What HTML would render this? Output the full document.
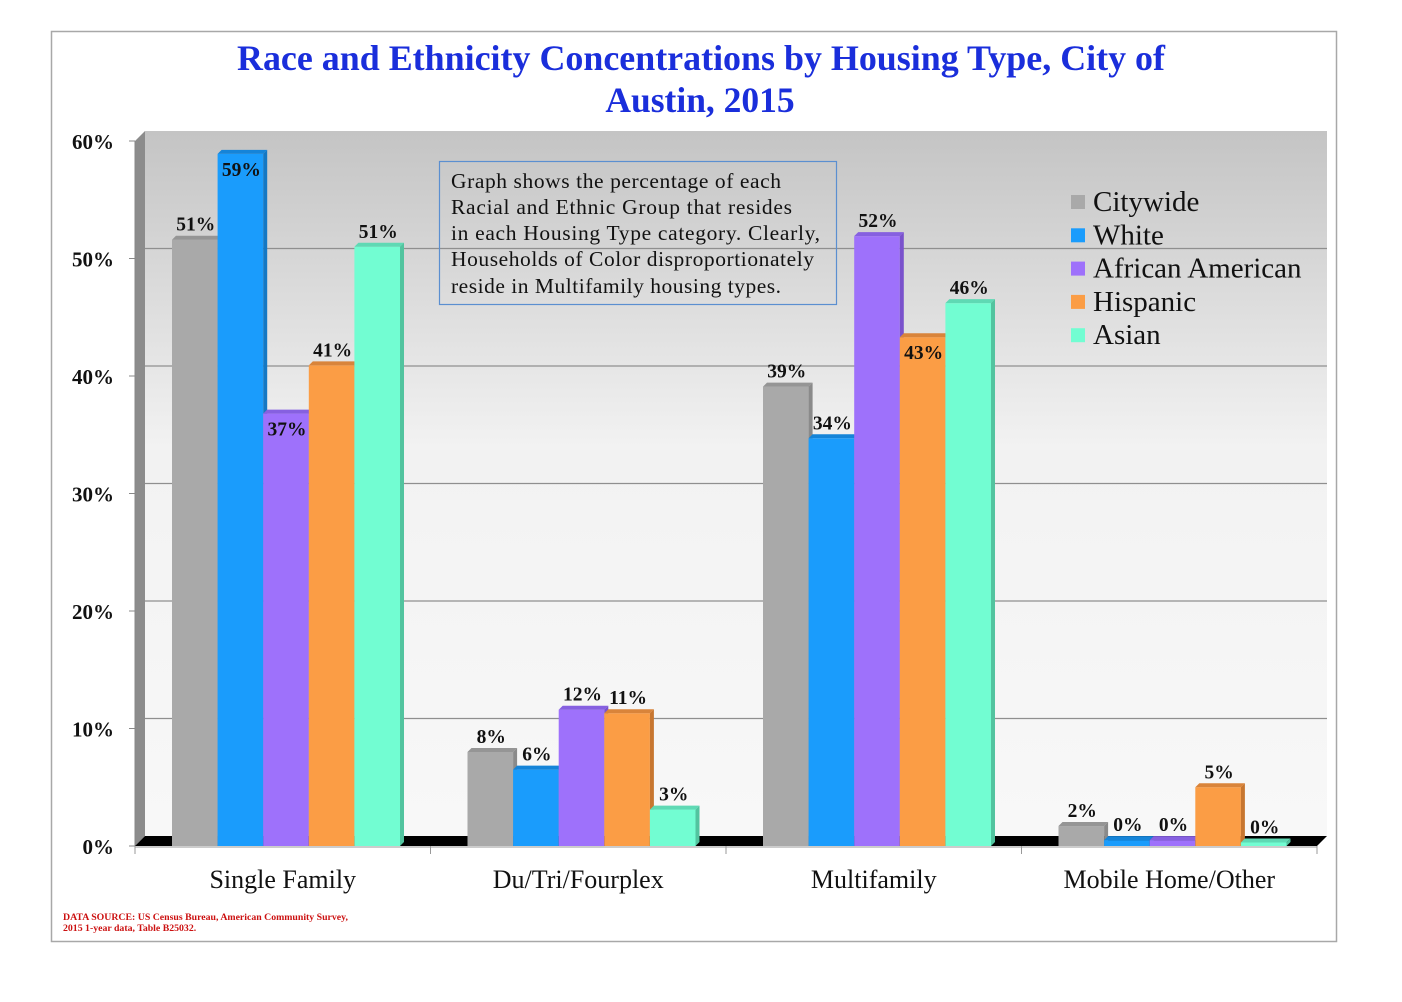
<!DOCTYPE html>
<html><head><meta charset="utf-8"><style>
html,body{margin:0;padding:0;background:#fff;}
svg{display:block;font-family:"Liberation Serif",serif;}
</style></head><body>
<svg id="chart" width="1402" height="1002" viewBox="0 0 1402 1002">
<defs>
<linearGradient id="wall" x1="0" y1="0" x2="0" y2="1">
<stop offset="0" stop-color="#c4c4c4"/><stop offset="0.45" stop-color="#f2f2f2"/><stop offset="1" stop-color="#f8f8f8"/>
</linearGradient>
</defs>
<rect x="51.5" y="31.5" width="1285" height="910" fill="#fff" stroke="#a8a8a8" stroke-width="1.5"/>
<text x="700" y="70" text-anchor="middle" font-size="35.5" font-weight="bold" fill="#1a2edb"><tspan x="237" text-anchor="start" textLength="928" lengthAdjust="spacingAndGlyphs">Race and Ethnicity Concentrations by Housing Type, City of</tspan><tspan x="700" dy="42">Austin, 2015</tspan></text>
<g id="plot"></g>
<g>
<rect x="439.5" y="161.5" width="397" height="143" fill="none" stroke="#5b8fd0" stroke-width="1.2"/>
<text font-size="21.5" fill="#111" lengthAdjust="spacingAndGlyphs"><tspan x="451" y="188" textLength="330">Graph shows the percentage of each</tspan><tspan x="451" y="214" textLength="341">Racial and Ethnic Group that  resides</tspan><tspan x="451" y="240" textLength="369">in each Housing Type category. Clearly,</tspan><tspan x="451" y="266" textLength="363">Households of Color disproportionately</tspan><tspan x="451" y="293" textLength="330">reside in Multifamily housing types.</tspan></text>
</g>
<g id="legend"></g>
<text x="63" y="920" font-size="9.8" font-weight="bold" fill="#cc1111"><tspan x="63">DATA SOURCE: US Census Bureau, American Community Survey,</tspan><tspan x="63" dy="11">2015 1-year data, Table B25032.</tspan></text>
</svg>
<script>
const categories = ["Single Family","Du/Tri/Fourplex","Multifamily","Mobile Home/Other"];
const seriesNames = ["Citywide","White","African American","Hispanic","Asian"];
const citywide = [51.6, 8.0, 39.1, 1.7];
const white = [58.9, 6.5, 34.7, 0.5];
const africanAmerican = [36.8, 11.6, 51.9, 0.5];
const hispanic = [40.9, 11.3, 43.3, 5.0];
const asian = [51.0, 3.1, 46.2, 0.3];
const labelCitywide = ["51%","8%","39%","2%"];
const labelWhite = ["59%","6%","34%","0%"];
const labelAA = ["37%","12%","52%","0%"];
const labelHispanic = ["41%","11%","43%","5%"];
const labelAsian = ["51%","3%","46%","0%"];
const yTicks = [0,10,20,30,40,50,60];
const yTickLabels = ["0%","10%","20%","30%","40%","50%","60%"];

const series = [citywide, white, africanAmerican, hispanic, asian];
const labels = [labelCitywide, labelWhite, labelAA, labelHispanic, labelAsian];
const fills = ["#a9a9a9","#1a9cfc","#9e71fb","#fb9d45","#72fdd2"];
const sides = ["#8a8a8a","#1478c4","#7a52cc","#c77630","#52c49f"];
const tops = ["#959595","#1584d8","#8660e0","#d9843a","#5fd9b4"];
const NS = "http://www.w3.org/2000/svg";
const x0 = 135, x1 = 1317, y0 = 846, yTop = 141, ymax = 60, D = 10, d = 4;
const y = v => y0 - (v / ymax) * (y0 - yTop);
const catW = (x1 - x0) / categories.length;
const barW = 45.6;
const xBar = (c, s) => x0 + c * catW + 37 + s * barW;
const plot = document.getElementById('plot');
function mk(tag, attrs, parent){const e=document.createElementNS(NS,tag);for(const k in attrs)e.setAttribute(k,attrs[k]);(parent||plot).appendChild(e);return e;}

const wall = mk('polygon',{points:`${x0+D},${yTop-D} 1327,${yTop-D} 1327,${y0-D} ${x0+D},${y0-D}`,fill:'url(#wall)'});


const side = mk('polygon',{points:`${x0},${yTop} ${x0+D},${yTop-D} ${x0+D},${y0-D} ${x0},${y0}`,fill:'#8c8c8c'});


yTicks.forEach((t,i)=>{
  if(t>0 && t<ymax){
    const g = mk('line',{x1:x0+D,x2:1327,y1:y(t)-D,y2:y(t)-D,stroke:'#8f8f8f','stroke-width':1.2});
    
    
  }
  mk('line',{x1:x0-6,x2:x0,y1:y(t),y2:y(t),stroke:'#888'});
  const tl = mk('text',{x:114,y:y(t)+8,'text-anchor':'end','font-size':21,'font-weight':'bold',fill:'#111'});
  tl.textContent = yTickLabels[i];
  
  
});
mk('line',{x1:x0,x2:x0,y1:yTop,y2:y0,stroke:'#888'});
const floor = mk('polygon',{points:`${x0},${y0} ${x0+D},${y0-D} 1327,${y0-D} ${x1},${y0}`,fill:'#000'});


mk('line',{x1:x0,x2:x1,y1:y0+1,y2:y0+1,stroke:'#999'});
for(let c=0;c<=categories.length;c++){
  mk('line',{x1:x0+c*catW,x2:x0+c*catW,y1:y0,y2:y0+8,stroke:'#999'});
}
categories.forEach((cat,c)=>{
  const t = mk('text',{x:x0+c*catW+catW/2,y:888,'text-anchor':'middle','font-size':26,fill:'#111'});
  t.textContent = cat;
  
  
});
const inside = {"0-1":1,"0-2":1,"2-3":1};
categories.forEach((cat,c)=>{
  series.forEach((vals,s)=>{
    const v = vals[c], bx = xBar(c,s), by = y(v);
    const g = mk('g',{});
    
    
    mk('rect',{x:bx,y:by,width:barW,height:y0-by,fill:fills[s]},g);
    mk('polygon',{points:`${bx},${by} ${bx+d},${by-d} ${bx+barW+d},${by-d} ${bx+barW},${by}`,fill:tops[s]},g);
    mk('polygon',{points:`${bx+barW},${by} ${bx+barW+d},${by-d} ${bx+barW+d},${y0-d} ${bx+barW},${y0}`,fill:sides[s]},g);
    const inn = inside[c+'-'+s];
    const lab = mk('text',{x:bx+barW/2+1,y:inn? by+22 : by-9,'text-anchor':'middle','font-size':19.5,'font-weight':'bold',fill:'#111'});
    lab.textContent = labels[s][c];
    
    
  });
});
const legend = document.getElementById('legend');
seriesNames.forEach((n,i)=>{
  const ly = 202 + i*33.3;
  const e = mk('g',{},legend);
  
  
  mk('rect',{x:1071,y:ly-7,width:14,height:14,fill:fills[i]},e);
  const t = mk('text',{x:1093,y:ly+9,'font-size':29,fill:'#111'},e);
  t.textContent = n;
});
</script>
</body></html>
